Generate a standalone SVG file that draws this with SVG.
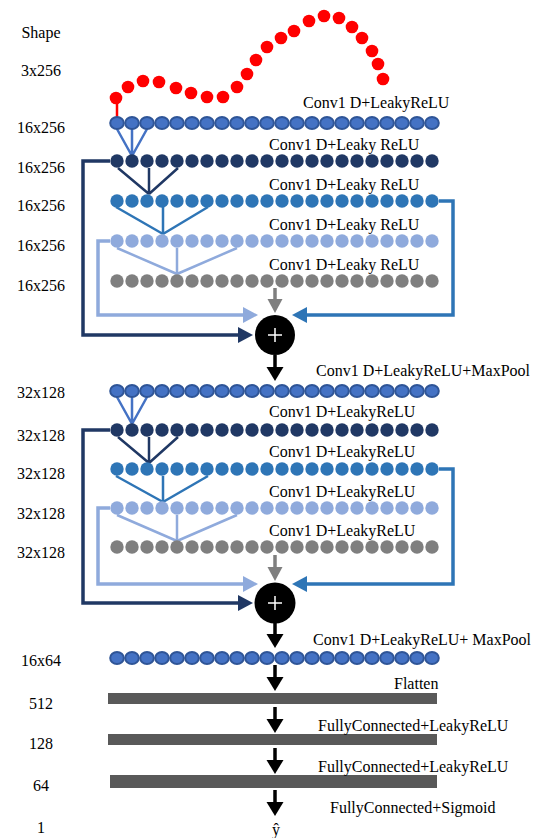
<svg xmlns="http://www.w3.org/2000/svg" xmlns:xlink="http://www.w3.org/1999/xlink" width="537" height="838" viewBox="0 0 537 838">
<style>
text{font-family:"Liberation Serif","Times New Roman",serif;font-size:16px;fill:#000}
.mid{text-anchor:middle}
.outl{fill:#4472c4;stroke:#2f5597;stroke-width:2}
.navy{fill:#203864}
.blue{fill:#2e75b6}
.lblue{fill:#8faadc}
.gray{fill:#7f7f7f}
.red{fill:#ff0000}
.bar{fill:#595959}
.ln{fill:none;stroke-width:2.5}
.res{fill:none;stroke-width:3.5}
.k-out{stroke:#4472c4}
.k-navy{stroke:#203864}
.k-blue{stroke:#2e75b6}
.k-lblue{stroke:#8faadc}
.k-gray{stroke:#7f7f7f}
.k-red{stroke:#ff0000}
.k-black{stroke:#000}
.sum{fill:#000}
.plus{stroke:#fff;stroke-width:1.5}
</style>
<defs>
<g id="dots">
<circle cx="117" cy="0" r="6.7"/><circle cx="132" cy="0" r="6.7"/><circle cx="147" cy="0" r="6.7"/><circle cx="162" cy="0" r="6.7"/><circle cx="177" cy="0" r="6.7"/><circle cx="192" cy="0" r="6.7"/><circle cx="207" cy="0" r="6.7"/><circle cx="222" cy="0" r="6.7"/><circle cx="237" cy="0" r="6.7"/><circle cx="252" cy="0" r="6.7"/><circle cx="267" cy="0" r="6.7"/><circle cx="282" cy="0" r="6.7"/><circle cx="297" cy="0" r="6.7"/><circle cx="312" cy="0" r="6.7"/><circle cx="327" cy="0" r="6.7"/><circle cx="342" cy="0" r="6.7"/><circle cx="357" cy="0" r="6.7"/><circle cx="372" cy="0" r="6.7"/><circle cx="387" cy="0" r="6.7"/><circle cx="402" cy="0" r="6.7"/><circle cx="417" cy="0" r="6.7"/><circle cx="432" cy="0" r="6.7"/>
</g>
<g id="odots">
<ellipse cx="117" cy="0" rx="6.8" ry="6"/><ellipse cx="132" cy="0" rx="6.8" ry="6"/><ellipse cx="147" cy="0" rx="6.8" ry="6"/><ellipse cx="162" cy="0" rx="6.8" ry="6"/><ellipse cx="177" cy="0" rx="6.8" ry="6"/><ellipse cx="192" cy="0" rx="6.8" ry="6"/><ellipse cx="207" cy="0" rx="6.8" ry="6"/><ellipse cx="222" cy="0" rx="6.8" ry="6"/><ellipse cx="237" cy="0" rx="6.8" ry="6"/><ellipse cx="252" cy="0" rx="6.8" ry="6"/><ellipse cx="267" cy="0" rx="6.8" ry="6"/><ellipse cx="282" cy="0" rx="6.8" ry="6"/><ellipse cx="297" cy="0" rx="6.8" ry="6"/><ellipse cx="312" cy="0" rx="6.8" ry="6"/><ellipse cx="327" cy="0" rx="6.8" ry="6"/><ellipse cx="342" cy="0" rx="6.8" ry="6"/><ellipse cx="357" cy="0" rx="6.8" ry="6"/><ellipse cx="372" cy="0" rx="6.8" ry="6"/><ellipse cx="387" cy="0" rx="6.8" ry="6"/><ellipse cx="402" cy="0" rx="6.8" ry="6"/><ellipse cx="417" cy="0" rx="6.8" ry="6"/><ellipse cx="432" cy="0" rx="6.8" ry="6"/>
</g>
<marker id="ah-navy" markerUnits="userSpaceOnUse" markerWidth="16" markerHeight="16" refX="0" refY="8" orient="auto"><path d="M0,0 L15,8 L0,16 z" fill="#203864"/></marker>
<marker id="ah-blue" markerUnits="userSpaceOnUse" markerWidth="16" markerHeight="16" refX="0" refY="8" orient="auto"><path d="M0,0 L15,8 L0,16 z" fill="#2e75b6"/></marker>
<marker id="ah-lblue" markerUnits="userSpaceOnUse" markerWidth="16" markerHeight="16" refX="0" refY="8" orient="auto"><path d="M0,0 L15,8 L0,16 z" fill="#8faadc"/></marker>
<marker id="ah-gray" markerUnits="userSpaceOnUse" markerWidth="16" markerHeight="16" refX="0" refY="8" orient="auto"><path d="M0,0.5 L14,8 L0,15.5 z" fill="#7f7f7f"/></marker>
<marker id="ah-black" markerUnits="userSpaceOnUse" markerWidth="16" markerHeight="18" refX="0" refY="8.5" orient="auto"><path d="M0,0 L14,8.5 L0,17 z" fill="#000"/></marker>
</defs>
<rect width="537" height="838" fill="#fff"/>

<g id="shape-labels">
<text class="mid" x="41" y="38">Shape</text>
<text class="mid" x="41" y="76">3x256</text>
<text class="mid" x="41" y="133">16x256</text>
<text class="mid" x="41" y="173">16x256</text>
<text class="mid" x="41" y="211">16x256</text>
<text class="mid" x="41" y="251">16x256</text>
<text class="mid" x="41" y="291">16x256</text>
<text class="mid" x="41" y="398">32x128</text>
<text class="mid" x="41" y="441">32x128</text>
<text class="mid" x="41" y="479">32x128</text>
<text class="mid" x="41" y="519">32x128</text>
<text class="mid" x="41" y="558">32x128</text>
<text class="mid" x="41" y="666">16x64</text>
<text class="mid" x="41" y="709">512</text>
<text class="mid" x="41" y="749">128</text>
<text class="mid" x="41" y="791">64</text>
<text class="mid" x="41" y="833">1</text>
</g>

<g id="connectors">
<line class="ln k-red" x1="117" y1="104" x2="117" y2="118"/>
<path class="ln k-out" d="M117,129 L132,156 M132,129 L132,156 M147,129 L132,156"/>
<path class="ln k-navy" d="M118,168 L149,194 M149,168 L149,194 M178,168 L149,194"/>
<path class="ln k-blue" d="M116,207 L163,234 M163,207 L163,234 M208,207 L163,234"/>
<path class="ln k-lblue" d="M117,248 L177,274 M177,248 L177,274 M237,248 L177,274"/>
<path class="res k-navy" d="M110,161 H83 V335 H238" marker-end="url(#ah-navy)"/>
<path class="res k-lblue" d="M110,241 H98 V315 H243" marker-end="url(#ah-lblue)"/>
<path class="res k-blue" d="M439,201 H453 V315 H307" marker-end="url(#ah-blue)"/>
<path class="res k-gray" d="M275,288 V299" marker-end="url(#ah-gray)"/>
<path class="res k-black" d="M275,355 V367" marker-end="url(#ah-black)"/>

<path class="ln k-out" d="M117,397 L132,424 M132,397 L132,424 M147,397 L132,424"/>
<path class="ln k-navy" d="M118,437 L149,463 M149,437 L149,463 M178,437 L149,463"/>
<path class="ln k-blue" d="M116,476 L163,502 M163,476 L163,502 M208,476 L163,502"/>
<path class="ln k-lblue" d="M117,515 L177,541 M177,515 L177,541 M237,515 L177,541"/>
<path class="res k-navy" d="M110,430 H83 V603 H238" marker-end="url(#ah-navy)"/>
<path class="res k-lblue" d="M110,508 H98 V584 H243" marker-end="url(#ah-lblue)"/>
<path class="res k-blue" d="M439,469 H453 V584 H307" marker-end="url(#ah-blue)"/>
<path class="res k-gray" d="M275,555 V567" marker-end="url(#ah-gray)"/>
<path class="res k-black" d="M275,623 V634" marker-end="url(#ah-black)"/>

<path class="res k-black" d="M275,665 V677" marker-end="url(#ah-black)"/>
<path class="res k-black" d="M275,707 V719" marker-end="url(#ah-black)"/>
<path class="res k-black" d="M275,748 V760" marker-end="url(#ah-black)"/>
<path class="res k-black" d="M275,790 V802" marker-end="url(#ah-black)"/>
</g>

<g id="input-signal" class="red">
<circle cx="116" cy="98" r="6.3"/><circle cx="128" cy="87" r="6.3"/><circle cx="143" cy="81" r="6.3"/><circle cx="159" cy="82" r="6.3"/><circle cx="176" cy="88" r="6.3"/><circle cx="191" cy="93" r="6.3"/><circle cx="207" cy="97" r="6.3"/><circle cx="223" cy="97" r="6.3"/><circle cx="237" cy="87" r="6.3"/><circle cx="247" cy="74" r="6.3"/><circle cx="256" cy="60" r="6.3"/><circle cx="267" cy="47" r="6.3"/><circle cx="281" cy="38" r="6.3"/><circle cx="294" cy="31" r="6.3"/><circle cx="309" cy="21" r="6.3"/><circle cx="324" cy="16" r="6.3"/><circle cx="339" cy="18" r="6.3"/><circle cx="352" cy="27" r="6.3"/><circle cx="362" cy="38" r="6.3"/><circle cx="372" cy="51" r="6.3"/><circle cx="378" cy="64" r="6.3"/><circle cx="383" cy="79" r="6.3"/>
</g>

<g id="b1-conv0" class="outl"><use xlink:href="#odots" y="123"/></g>
<g id="b1-conv0-label"><text x="303" y="108">Conv1 D+LeakyReLU</text></g>
<g id="b1-conv1" class="navy"><use xlink:href="#dots" y="161"/></g>
<g id="b1-conv1-label"><text x="269" y="150">Conv1 D+Leaky ReLU</text></g>
<g id="b1-conv2" class="blue"><use xlink:href="#dots" y="201"/></g>
<g id="b1-conv2-label"><text x="269" y="190">Conv1 D+Leaky ReLU</text></g>
<g id="b1-conv3" class="lblue"><use xlink:href="#dots" y="241"/></g>
<g id="b1-conv3-label"><text x="269" y="230">Conv1 D+Leaky ReLU</text></g>
<g id="b1-conv4" class="gray"><use xlink:href="#dots" y="281"/></g>
<g id="b1-conv4-label"><text x="269" y="270">Conv1 D+Leaky ReLU</text></g>
<g id="b1-sum"><circle class="sum" cx="275" cy="335" r="20"/><path class="plus" d="M268,335 H282 M275,328 V342"/></g>

<g id="b2-conv0" class="outl"><use xlink:href="#odots" y="391"/></g>
<g id="b2-conv0-label"><text x="316" y="376">Conv1 D+LeakyReLU+MaxPool</text></g>
<g id="b2-conv1" class="navy"><use xlink:href="#dots" y="430"/></g>
<g id="b2-conv1-label"><text x="269" y="417">Conv1 D+LeakyReLU</text></g>
<g id="b2-conv2" class="blue"><use xlink:href="#dots" y="469"/></g>
<g id="b2-conv2-label"><text x="269" y="457">Conv1 D+LeakyReLU</text></g>
<g id="b2-conv3" class="lblue"><use xlink:href="#dots" y="508"/></g>
<g id="b2-conv3-label"><text x="269" y="497">Conv1 D+LeakyReLU</text></g>
<g id="b2-conv4" class="gray"><use xlink:href="#dots" y="547"/></g>
<g id="b2-conv4-label"><text x="269" y="536">Conv1 D+LeakyReLU</text></g>
<g id="b2-sum"><circle class="sum" cx="275" cy="603" r="20.5"/><path class="plus" d="M268,603 H282 M275,596 V610"/></g>

<g id="conv-final" class="outl"><use xlink:href="#odots" y="658"/></g>
<g id="conv-final-label"><text x="313" y="645">Conv1 D+LeakyReLU+ MaxPool</text></g>
<g id="flatten"><rect class="bar" x="108" y="693" width="329" height="11"/><text x="394" y="689">Flatten</text></g>
<g id="fc1"><rect class="bar" x="108" y="734" width="329" height="11"/><text x="318" y="731">FullyConnected+LeakyReLU</text></g>
<g id="fc2"><rect class="bar" x="110" y="775" width="327" height="13"/><text x="318" y="772">FullyConnected+LeakyReLU</text></g>
<g id="fc3-label"><text x="330" y="813">FullyConnected+Sigmoid</text></g>
<g id="output"><text class="mid" x="276" y="835">ŷ</text></g>
</svg>
